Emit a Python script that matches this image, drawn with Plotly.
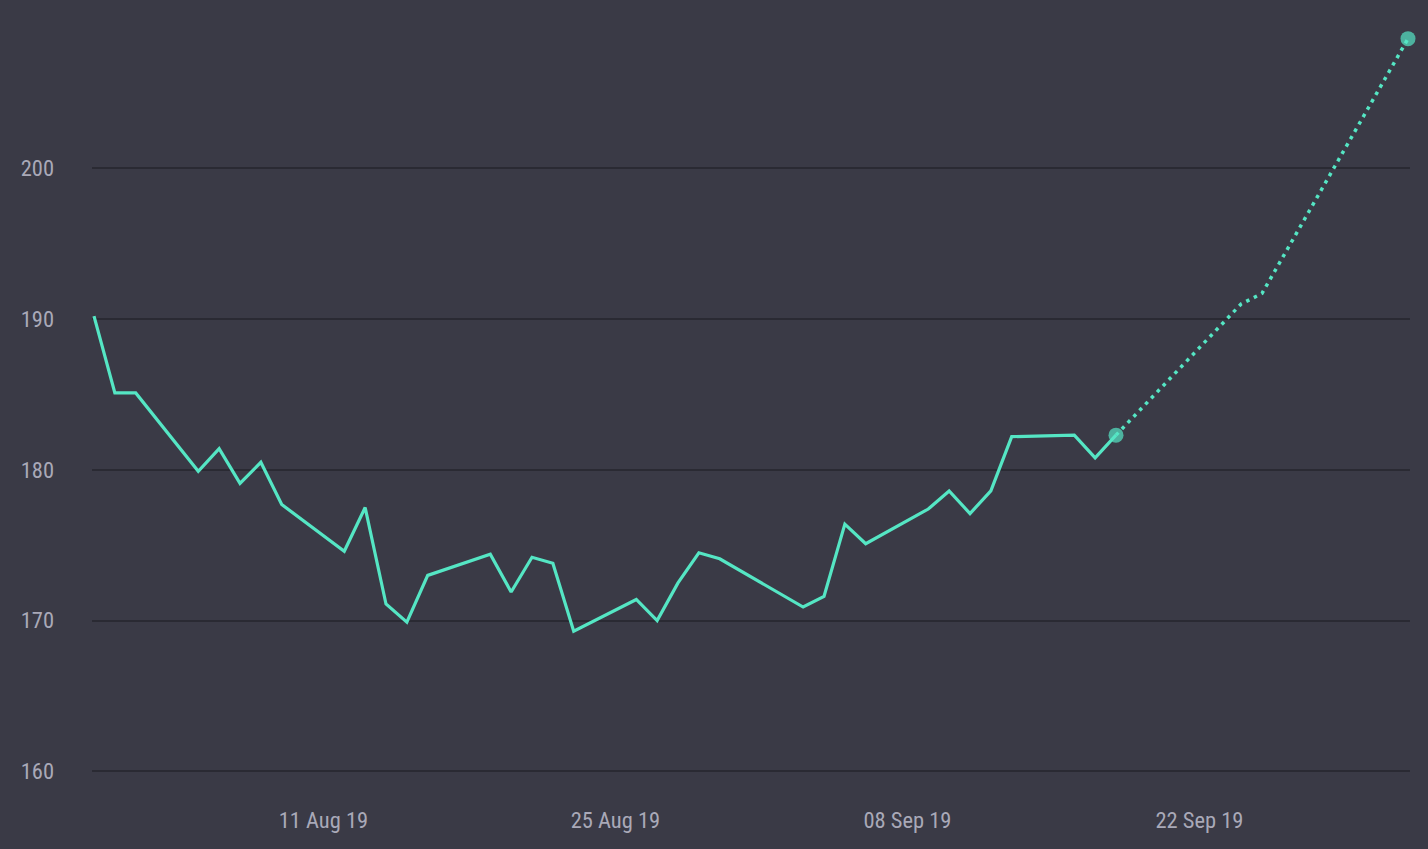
import plotly.graph_objects as go

# Actual prices (trading days)
dates = [
    "2019-07-31", "2019-08-01", "2019-08-02", "2019-08-05", "2019-08-06", "2019-08-07",
    "2019-08-08", "2019-08-09", "2019-08-12", "2019-08-13", "2019-08-14", "2019-08-15",
    "2019-08-16", "2019-08-19", "2019-08-20", "2019-08-21", "2019-08-22", "2019-08-23",
    "2019-08-26", "2019-08-27", "2019-08-28", "2019-08-29", "2019-08-30", "2019-09-03",
    "2019-09-04", "2019-09-05", "2019-09-06", "2019-09-09", "2019-09-10", "2019-09-11",
    "2019-09-12", "2019-09-13", "2019-09-16", "2019-09-17", "2019-09-18",
]
prices = [
    190.2, 185.1, 185.1, 179.9, 181.4, 179.1,
    180.5, 177.7, 174.6, 177.5, 171.1, 169.9,
    173.0, 174.4, 171.9, 174.2, 173.8, 169.3,
    171.4, 170.0, 172.5, 174.5, 174.1, 170.9,
    171.6, 176.4, 175.1, 177.4, 178.6, 177.1,
    178.6, 182.2, 182.3, 180.8, 182.3,
]

# Forecast
forecast_dates = ["2019-09-18", "2019-09-24", "2019-09-25", "2019-10-02"]
forecast_prices = [182.3, 191.0, 191.7, 208.6]

y_ticks = [160, 170, 180, 190, 200]
x_ticks = ["2019-08-11", "2019-08-25", "2019-09-08", "2019-09-22"]
x_tick_labels = ["11 Aug 19", "25 Aug 19", "08 Sep 19", "22 Sep 19"]

BG = "#3a3a46"
GRID = "#2a2a33"
TEXT = "#a9a9b8"
LINE = "#55e6c4"
FONT = "Roboto Condensed, sans-serif"

fig = go.Figure()
fig.add_trace(go.Scatter(
    x=dates, y=prices, mode="lines",
    line=dict(color=LINE, width=3.2),
    cliponaxis=False, hoverinfo="skip", showlegend=False,
))
fig.add_trace(go.Scatter(
    x=forecast_dates, y=forecast_prices, mode="lines+markers",
    line=dict(color=LINE, width=3.5, dash="3.5px,5px"),
    marker=dict(color=LINE, size=[15] + [0] * (len(forecast_dates) - 2) + [15],
                line=dict(width=0)),
    cliponaxis=False, hoverinfo="skip", showlegend=False,
))

fig.update_layout(
    width=1428, height=849,
    paper_bgcolor=BG, plot_bgcolor=BG,
    margin=dict(l=92, r=18, t=10, b=49),
    font=dict(family=FONT, size=22.5, color=TEXT),
    xaxis=dict(
        range=["2019-07-30 21:42", "2019-10-02 02:18"],
        tickvals=x_ticks, ticktext=x_tick_labels,
        showgrid=False, zeroline=False, showline=False,
        ticks="", ticklabelstandoff=4,
    ),
    yaxis=dict(
        range=[158.1, 210.5],
        tickvals=y_ticks,
        showgrid=True, gridcolor=GRID, gridwidth=2,
        zeroline=False, showline=False, ticks="",
        ticklabelstandoff=37,
    ),
)

fig.write_html("out.html", config={"displayModeBar": False},
               post_script="document.body.style.margin='0';")
